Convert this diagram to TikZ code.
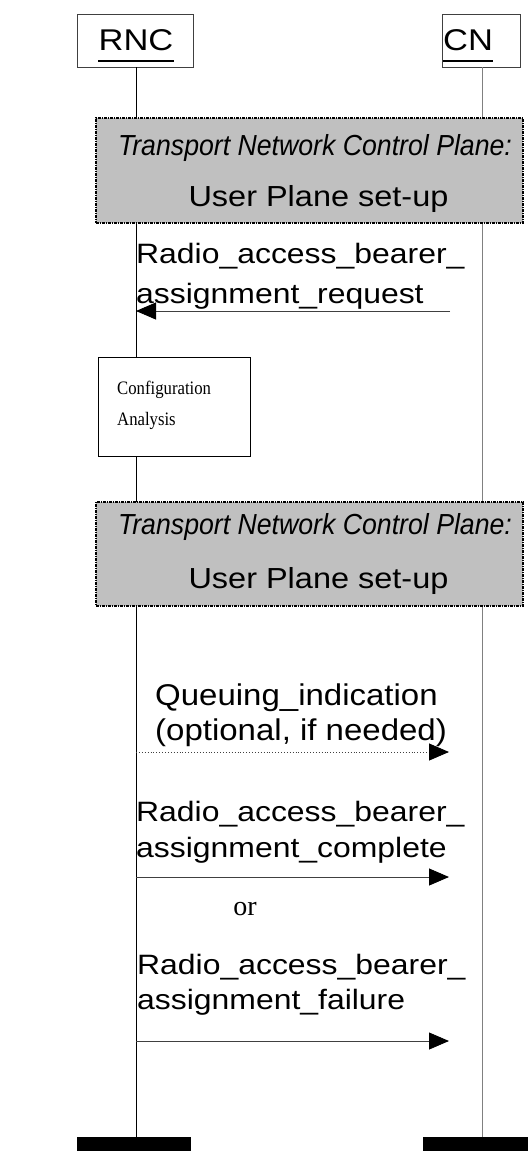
\documentclass[tikz,border=0pt]{standalone}
\usepackage{fontspec}
\usepackage{graphicx}
\setmainfont{Liberation Serif}
\setsansfont{Liberation Sans}
\usetikzlibrary{arrows.meta,calc}
\definecolor{boxgray}{HTML}{C0C0C0}
\definecolor{linegray}{HTML}{404040}
\newcommand{\hs}[2]{\scalebox{#1}[1]{#2}}
\tikzset{
  ent/.style={draw=linegray, line width=0.8pt, fill=white},
  life/.style={line width=0.9pt},
  plane/.style={draw=black, fill=boxgray, line width=1.3pt, dash pattern=on 3pt off 1pt on 1pt off 1pt},
  msg/.style={draw=linegray, line width=0.9pt, -{Triangle[length=20pt,width=17pt,color=black,fill=black]}},
  txt/.style={inner sep=0pt, font=\sffamily\fontsize{28}{32}\selectfont},
  ital/.style={inner sep=0pt, font=\sffamily\itshape\fontsize{29}{34}\selectfont},
  serif/.style={inner sep=0pt, font=\rmfamily\fontsize{19}{24}\selectfont},
  bar/.style={fill=black, draw=none}
}
\begin{document}
\begin{tikzpicture}[x=1pt,y=-1pt]
\useasboundingbox (0,0) rectangle (528,1151);
% entities
\node[ent, minimum width=116pt, minimum height=53pt, inner sep=0pt] (rnc) at (135,40.5) {};
\node[ent, minimum width=78pt, minimum height=53pt, inner sep=0pt] (cn) at (481,40.5) {};
\node[txt, anchor=base, font=\sffamily\fontsize{30}{34}\selectfont] (rnct) at (136,50) {\hs{1.15}{RNC}};
\node[txt, anchor=base west, font=\sffamily\fontsize{30}{34}\selectfont] (cnt) at (443,50) {\hs{1.15}{CN}};
\draw[line width=2pt] (rnct.base west |- 0,61) -- (rnct.base east |- 0,61);
\draw[line width=2pt] (cnt.base west |- 0,61) -- (cnt.base east |- 0,61);
% lifelines and bars
\node[bar, minimum width=114pt, minimum height=14pt, inner sep=0pt] (rncend) at (134,1144) {};
\node[bar, minimum width=105pt, minimum height=14pt, inner sep=0pt] (cnend) at (475.5,1144) {};
\draw[life, black] (rnc.south -| 136,0) coordinate (rtop) -- (rncend.north -| rtop);
\draw[life, gray] (cn.south -| 482,0) coordinate (ctop) -- (cnend.north -| ctop);
% plane box 1
\node[plane, minimum width=427pt, minimum height=105pt, inner sep=0pt] (p1) at (309.5,170.5) {};
\node[ital, anchor=base] (p1a) at (315,155) {\hs{0.92}{Transport Network Control Plane:}};
\node[txt, anchor=base, font=\sffamily\fontsize{29}{32}\selectfont] (p1b) at (318.5,206) {\hs{1.12}{User Plane set-up}};
% request
\coordinate (q1) at (450,311);
\draw[msg] (q1) -- (q1 -| rtop) coordinate (q1e);
\node[txt, anchor=base west] (l1a) at (136,263) {\hs{1.14}{Radio\_access\_bearer\_}};
\node[txt, anchor=base west] (l1b) at (136,303) {\hs{1.14}{assignment\_request}};
% configuration analysis
\node[ent, draw=black, minimum width=152pt, minimum height=99pt, inner sep=0pt] (cfg) at (174,406.5) {};
\node[serif, anchor=base west] (cfga) at (117,394) {\hs{0.88}{Configuration}};
\node[serif, anchor=base west] (cfgb) at (117,425) {\hs{0.88}{Analysis}};
% plane box 2
\node[plane, minimum width=427pt, minimum height=104pt, inner sep=0pt] (p2) at (309.5,554) {};
\node[ital, anchor=base] (p2a) at (315,534) {\hs{0.92}{Transport Network Control Plane:}};
\node[txt, anchor=base, font=\sffamily\fontsize{29}{32}\selectfont] (p2b) at (318.5,588) {\hs{1.12}{User Plane set-up}};
% queuing
\coordinate (m2) at (136,752);
\draw[msg, dotted] (m2) -- (449,752) coordinate (m2e);
\node[txt, anchor=base west, font=\sffamily\fontsize{30}{34}\selectfont] (l2a) at (155,705) {\hs{1.1}{Queuing\_indication}};
\node[txt, anchor=base west, font=\sffamily\fontsize{30}{34}\selectfont] (l2b) at (155,740) {\hs{1.1}{(optional, if needed)}};
% complete
\coordinate (m3) at (136,877);
\draw[msg] (m3) -- (449,877) coordinate (m3e);
\node[txt, anchor=base west] (l3a) at (136,821) {\hs{1.14}{Radio\_access\_bearer\_}};
\node[txt, anchor=base west] (l3b) at (136,857) {\hs{1.14}{assignment\_complete}};
% or
\node[serif, anchor=base, font=\rmfamily\fontsize{28}{32}\selectfont] (or) at (245,915) {or};
% failure
\coordinate (m4) at (136,1041);
\draw[msg] (m4) -- (449,1041) coordinate (m4e);
\node[txt, anchor=base west] (l4a) at (137,974) {\hs{1.14}{Radio\_access\_bearer\_}};
\node[txt, anchor=base west] (l4b) at (137,1009) {\hs{1.14}{assignment\_failure}};
\end{tikzpicture}
\end{document}
